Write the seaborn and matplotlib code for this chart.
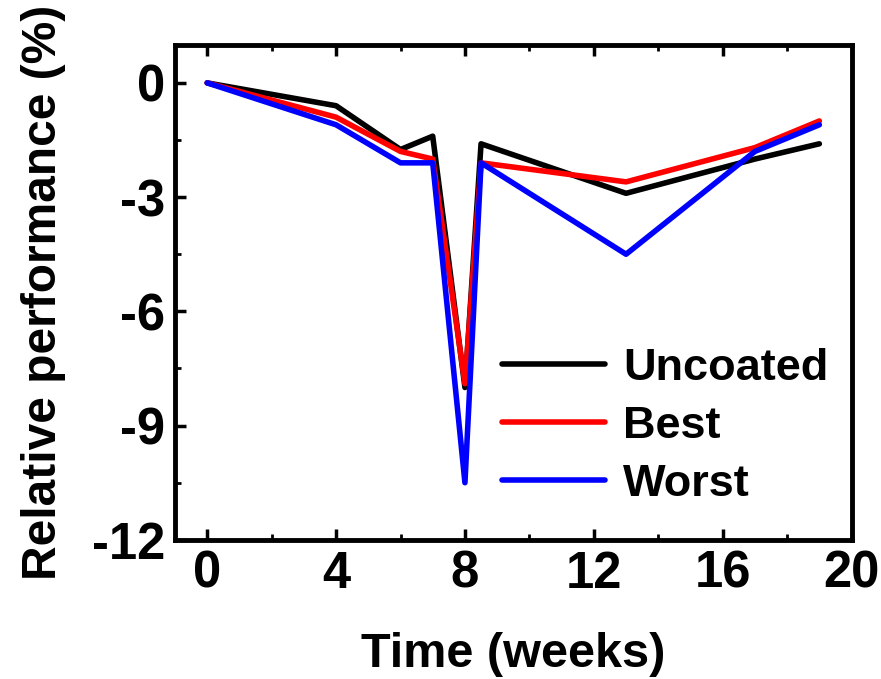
import matplotlib
matplotlib.use("Agg")
import matplotlib.pyplot as plt
from matplotlib.ticker import MultipleLocator
import seaborn as sns
import pandas as pd

weeks = [0, 4, 6, 7, 8, 8.5, 13, 17, 19]
uncoated = [0, -0.6, -1.75, -1.4, -8.0, -1.6, -2.9, -2.0, -1.6]
best = [0, -0.9, -1.8, -2.0, -7.9, -2.1, -2.6, -1.7, -1.0]
worst = [0, -1.1, -2.1, -2.1, -10.5, -2.1, -4.5, -1.8, -1.1]
series_names = ["Uncoated", "Best", "Worst"]
series_colors = ["#000000", "#ff0000", "#0000ff"]

frames = []
for name, vals in zip(series_names, [uncoated, best, worst]):
    frames.append(pd.DataFrame({"Time": weeks, "Value": vals, "Series": name}))
df = pd.concat(frames, ignore_index=True)

sns.set_style("ticks")
plt.rcParams["font.family"] = ["Liberation Sans", "DejaVu Sans"]
plt.rcParams["font.weight"] = "bold"
plt.rcParams["axes.unicode_minus"] = False
plt.rcParams["text.color"] = "black"
plt.rcParams["axes.labelcolor"] = "black"
plt.rcParams["xtick.color"] = "black"
plt.rcParams["ytick.color"] = "black"
plt.rcParams["axes.edgecolor"] = "black"

fig = plt.figure(figsize=(8.81, 6.79), dpi=100)
ax = fig.add_axes([0.1986, 0.205, 0.768, 0.729])

sns.lineplot(data=df, x="Time", y="Value", hue="Series", hue_order=series_names,
             palette=series_colors, linewidth=4.0, sort=False, ax=ax, legend=True)

ax.set_xlim(-1, 20)
ax.set_ylim(-12, 1)
ax.xaxis.set_minor_locator(MultipleLocator(2))
ax.yaxis.set_minor_locator(MultipleLocator(1.5))
ax.set_xticks([0, 4, 8, 12, 16, 20])
ax.set_yticks([0, -3, -6, -9, -12])

for s in ax.spines.values():
    s.set_linewidth(3.5)
    s.set_visible(True)
    s.set_color("black")
ax.tick_params(which="major", direction="in", length=8, width=2.5, labelsize=36.5,
               top=True, pad=7, colors="black")
ax.tick_params(which="minor", direction="in", length=4, width=2.0, top=True,
               colors="black")
for lab in ax.get_xticklabels() + ax.get_yticklabels():
    lab.set_fontweight("bold")

ax.set_xlabel("Time (weeks)", fontsize=35, fontweight="bold", labelpad=24)
ax.set_ylabel("Relative performance (%)", fontsize=34.5, fontweight="bold", labelpad=19)

leg = ax.legend(loc="lower right", frameon=False, fontsize=32.5, handlelength=2.3,
                handletextpad=0.4, labelspacing=0.38, borderaxespad=0.3,
                bbox_to_anchor=(1.013, 0.006))
for t in leg.get_texts():
    t.set_fontweight("bold")
    t.set_color("black")
for h in leg.get_lines():
    h.set_linewidth(4.0)

fig.savefig("out.png", dpi=100)
